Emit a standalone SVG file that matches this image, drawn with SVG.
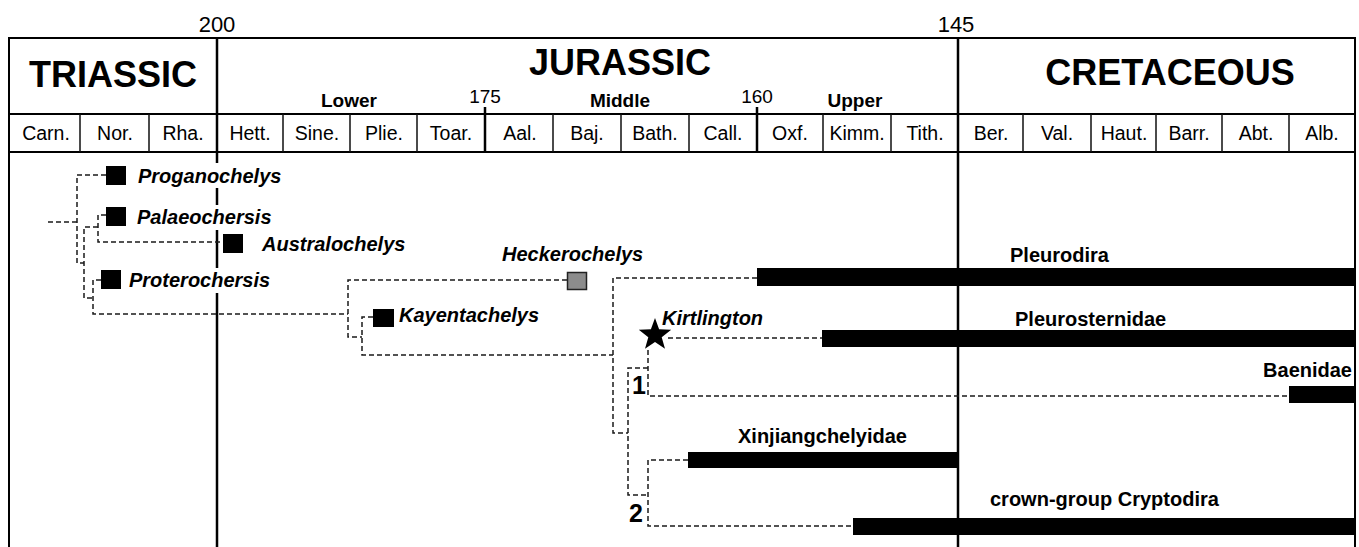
<svg xmlns="http://www.w3.org/2000/svg" width="1359" height="547" viewBox="0 0 1359 547">
<style>
.frame{stroke:#000;stroke-width:2;fill:none}
.sep{stroke:#111;stroke-width:1.5;fill:none}
.bound{stroke:#000;stroke-width:2.5;fill:none}
.dash{stroke:#1a1a1a;stroke-width:1.5;stroke-dasharray:5 3;fill:none}
.period{font-family:"Liberation Sans",Arial,sans-serif;font-weight:bold;font-size:36px;text-anchor:middle;fill:#000}
.epoch{font-family:"Liberation Sans",Arial,sans-serif;font-weight:bold;font-size:19px;text-anchor:middle;fill:#000}
.stage{font-family:"Liberation Sans",Arial,sans-serif;font-size:19.5px;text-anchor:middle;fill:#000}
.age{font-family:"Liberation Sans",Arial,sans-serif;font-size:22px;text-anchor:middle;fill:#000}
.age2{font-family:"Liberation Sans",Arial,sans-serif;font-size:19px;text-anchor:middle;fill:#000}
.taxon{font-family:"Liberation Sans",Arial,sans-serif;font-weight:bold;font-style:italic;font-size:20px;fill:#000}
.clade{font-family:"Liberation Sans",Arial,sans-serif;font-weight:bold;font-size:20px;fill:#000}
.num{font-family:"Liberation Sans",Arial,sans-serif;font-weight:bold;font-size:25px;fill:#000}
.sq{fill:#000}
.bar{fill:#000}
</style>
<rect width="1359" height="547" fill="#fff"/>
<g id="timescale">
<path class="frame" d="M9,547 V38 H1355 V547"/>
<path class="frame" d="M9,114 H1355 M9,152 H1355"/>
<path class="bound" d="M217,38 V163 M217,188 V205 M217,230 V268 M217,293 V547"/>
<path class="bound" d="M958,38 V547"/>
<path class="bound" d="M485,107 V152 M757,107 V152"/>
<path class="sep" d="M80,114 V152 M149,114 V152 M283,114 V152 M350,114 V152 M417,114 V152 M553,114 V152 M621,114 V152 M689,114 V152 M823,114 V152 M891,114 V152 M1023,114 V152 M1091,114 V152 M1156,114 V152 M1222,114 V152 M1289,114 V152"/>
<text class="age" x="217" y="32">200</text>
<text class="age" x="956" y="32">145</text>
<text class="age2" x="485" y="103">175</text>
<text class="age2" x="757" y="103">160</text>
<text class="period" x="113" y="87">TRIASSIC</text>
<text class="period" x="620" y="75">JURASSIC</text>
<text class="period" x="1170" y="85">CRETACEOUS</text>
<text class="epoch" x="349" y="107">Lower</text>
<text class="epoch" x="620" y="107">Middle</text>
<text class="epoch" x="855" y="107">Upper</text>
<text class="stage" x="46" y="140">Carn.</text>
<text class="stage" x="115" y="140">Nor.</text>
<text class="stage" x="183" y="140">Rha.</text>
<text class="stage" x="250" y="140">Hett.</text>
<text class="stage" x="317" y="140">Sine.</text>
<text class="stage" x="384" y="140">Plie.</text>
<text class="stage" x="451" y="140">Toar.</text>
<text class="stage" x="520" y="140">Aal.</text>
<text class="stage" x="587" y="140">Baj.</text>
<text class="stage" x="655" y="140">Bath.</text>
<text class="stage" x="723" y="140">Call.</text>
<text class="stage" x="790" y="140">Oxf.</text>
<text class="stage" x="857" y="140">Kimm.</text>
<text class="stage" x="925" y="140">Tith.</text>
<text class="stage" x="991" y="140">Ber.</text>
<text class="stage" x="1057" y="140">Val.</text>
<text class="stage" x="1124" y="140">Haut.</text>
<text class="stage" x="1189" y="140">Barr.</text>
<text class="stage" x="1256" y="140">Abt.</text>
<text class="stage" x="1322" y="140">Alb.</text>
</g>
<g id="connectors">
<path class="dash" d="M48,222 H77"/>
<path class="dash" d="M106,175 H77 V263 H84"/>
<path class="dash" d="M106,215 H98 V242 H223"/>
<path class="dash" d="M98,227 H84 V298 H93"/>
<path class="dash" d="M101,280 H93 V314 H348"/>
<path class="dash" d="M567,280 H348 V337 H362"/>
<path class="dash" d="M373,317 H362 V355 H613"/>
<path class="dash" d="M757,278 H613 V433 H628"/>
<path class="dash" d="M648,368 H628 V495 H648"/>
<path class="dash" d="M648,350 V396 H1289"/>
<path class="dash" d="M668,338 H822"/>
<path class="dash" d="M688,460 H648 V526 H853"/>
</g>
<g id="proganochelys">
<rect class="sq" x="106" y="166" width="20" height="19"/>
<text class="taxon" x="138" y="183">Proganochelys</text>
</g>
<g id="palaeochersis">
<rect class="sq" x="106" y="207" width="20" height="19"/>
<text class="taxon" x="137" y="224">Palaeochersis</text>
</g>
<g id="australochelys">
<rect class="sq" x="223" y="234" width="20" height="19"/>
<text class="taxon" x="262" y="251">Australochelys</text>
</g>
<g id="proterochersis">
<rect class="sq" x="101" y="270" width="20" height="19"/>
<text class="taxon" x="129" y="287">Proterochersis</text>
</g>
<g id="heckerochelys">
<rect x="567.5" y="272.5" width="19" height="17" fill="#8c8c8c" stroke="#222" stroke-width="1.5"/>
<text class="taxon" x="502" y="261">Heckerochelys</text>
</g>
<g id="kayentachelys">
<rect class="sq" x="373" y="309" width="21" height="18"/>
<text class="taxon" x="399" y="322">Kayentachelys</text>
</g>
<g id="kirtlington">
<path fill="#000" d="M655,318 L659.1,329.3 L671.2,329.7 L661.7,337.2 L665,348.8 L655,342 L645,348.8 L648.3,337.2 L638.8,329.7 L650.9,329.3 Z"/>
<text class="taxon" x="662" y="325">Kirtlington</text>
</g>
<g id="pleurodira">
<rect class="bar" x="757" y="268" width="598" height="18"/>
<text class="clade" x="1010" y="262">Pleurodira</text>
</g>
<g id="pleurosternidae">
<rect class="bar" x="822" y="330" width="533" height="17"/>
<text class="clade" x="1015" y="326">Pleurosternidae</text>
</g>
<g id="baenidae">
<rect class="bar" x="1289" y="386" width="66" height="17"/>
<text class="clade" x="1352" y="377" text-anchor="end">Baenidae</text>
</g>
<g id="xinjiangchelyidae">
<rect class="bar" x="688" y="452" width="270" height="16"/>
<text class="clade" x="738" y="443">Xinjiangchelyidae</text>
</g>
<g id="cryptodira">
<rect class="bar" x="853" y="518" width="502" height="17"/>
<text class="clade" x="990" y="506">crown-group Cryptodira</text>
</g>
<g id="node1"><text class="num" x="632" y="394">1</text></g>
<g id="node2"><text class="num" x="629" y="522">2</text></g>
</svg>
